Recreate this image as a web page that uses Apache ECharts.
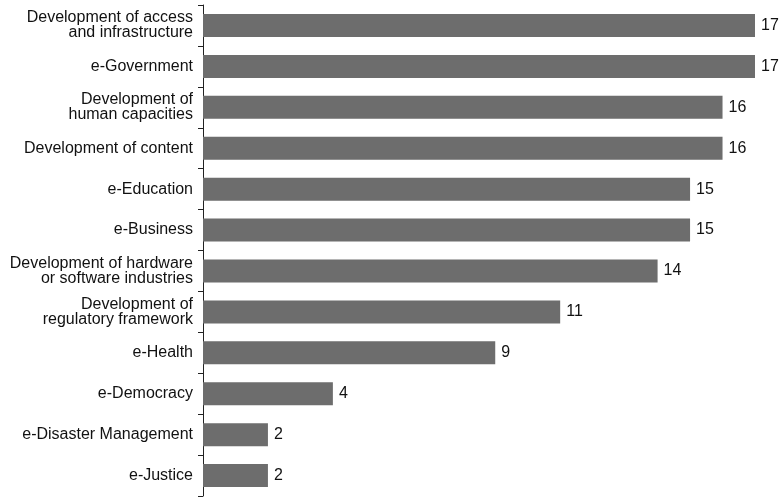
<!DOCTYPE html>
<html><head><meta charset="utf-8">
<script src="https://cdn.jsdelivr.net/npm/echarts@6/dist/echarts.min.js"></script>
<style>html,body{margin:0;padding:0;background:#fff}#c{width:779px;height:498px}</style>
</head><body><div id="c"></div>
<script>
const categories = [
  "Development of access\nand infrastructure",
  "e-Government",
  "Development of\nhuman capacities",
  "Development of content",
  "e-Education",
  "e-Business",
  "Development of hardware\nor software industries",
  "Development of\nregulatory framework",
  "e-Health",
  "e-Democracy",
  "e-Disaster Management",
  "e-Justice"
];
const values = [17, 17, 16, 16, 15, 15, 14, 11, 9, 4, 2, 2];

const chart = echarts.init(document.getElementById('c'));
chart.setOption({
  animation: false,
  grid: { left: 203, right: 24, top: 5, bottom: 2, containLabel: false },
  xAxis: { type: 'value', min: 0, max: 17, show: false },
  yAxis: {
    type: 'category', data: categories, inverse: true,
    axisLine: { show: true, lineStyle: { color: '#222', width: 1 } },
    axisTick: { show: true, length: 5, lineStyle: { color: '#222' } },
    axisLabel: { color: '#111', fontSize: 16, fontFamily: 'Liberation Sans, Arial, sans-serif', margin: 10, lineHeight: 15, align: 'right' }
  },
  series: [{
    type: 'bar', data: values, barWidth: 23,
    itemStyle: { color: '#6d6d6d' },
    label: { show: true, position: 'right', distance: 6, color: '#111', fontSize: 16, fontFamily: 'Liberation Sans, Arial, sans-serif' }
  }]
});
</script></body></html>
